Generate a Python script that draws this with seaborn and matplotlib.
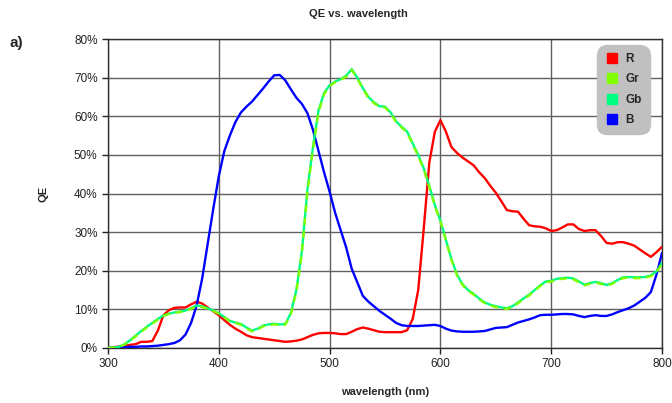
import numpy as np
import pandas as pd
import seaborn as sns
import matplotlib.pyplot as plt
from matplotlib.lines import Line2D
from matplotlib.ticker import PercentFormatter

sns.set_style('white')
plt.rcParams['font.family'] = ['Liberation Sans', 'DejaVu Sans']

# wavelength grid, 5 nm steps
wavelength = list(range(300, 805, 5))

qe_r = [0.0, 0.2, 0.4, 0.6, 0.8, 1.0, 1.6, 1.6, 1.8, 4.5,
        8.5, 9.8, 10.4, 10.5, 10.5, 11.3, 12.0, 11.5, 10.5, 9.5,
        8.5, 7.2, 6.0, 5.0, 4.2, 3.3, 2.8, 2.6, 2.4, 2.2,
        2.0, 1.8, 1.6, 1.7, 1.9, 2.2, 2.8, 3.4, 3.8, 3.9,
        3.9, 3.8, 3.6, 3.6, 4.2, 4.9, 5.3, 5.0, 4.6, 4.2,
        4.1, 4.1, 4.1, 4.1, 4.6, 7.5, 15.0, 31.0, 48.0, 56.0,
        59.0, 56.0, 52.0, 50.5, 49.3, 48.3, 47.3, 45.5, 44.0, 42.0,
        40.2, 38.0, 35.7, 35.4, 35.3, 33.5, 31.8, 31.5, 31.4, 31.0,
        30.3, 30.5, 31.2, 32.0, 32.0, 30.8, 30.3, 30.5, 30.5, 29.0,
        27.2, 27.0, 27.4, 27.4, 27.0, 26.5, 25.5, 24.5, 23.6, 24.8,
        26.2]

qe_gb = [0.0, 0.1, 0.3, 1.0, 2.0, 3.2, 4.4, 5.5, 6.5, 7.5,
         8.4, 8.9, 9.2, 9.4, 9.7, 10.3, 11.0, 10.8, 10.3, 9.7,
         9.0, 8.0, 7.0, 6.6, 6.2, 5.3, 4.5, 5.0, 5.8, 6.1,
         6.3, 6.1, 6.2, 9.0, 15.0, 25.0, 41.0, 52.0, 61.5, 66.0,
         68.0, 69.0, 69.6, 70.5, 72.2, 70.0, 67.3, 65.0, 63.6, 62.6,
         62.5, 61.0, 58.7, 57.3, 56.0, 53.0, 50.0, 46.5, 42.0, 37.0,
         33.0, 28.0, 23.0, 19.0, 16.5, 15.0, 14.0, 12.8, 11.8, 11.2,
         10.8, 10.5, 10.3, 10.8, 11.8, 12.8, 13.8, 15.0, 16.2, 17.2,
         17.4, 17.9, 18.1, 18.2, 18.0, 17.2, 16.4, 16.8, 17.1, 16.8,
         16.3, 16.8, 17.6, 18.3, 18.4, 18.3, 18.3, 18.4, 18.8, 19.8,
         22.0]

qe_gr = [0.0, 0.1, 0.3, 0.9, 1.9, 3.0, 4.2, 5.3, 6.3, 7.3,
         8.3, 8.8, 9.1, 9.3, 9.6, 10.1, 10.8, 10.6, 10.1, 9.6,
         8.9, 7.9, 6.9, 6.5, 6.0, 5.1, 4.3, 4.8, 5.6, 5.9,
         6.1, 5.9, 6.0, 8.7, 14.6, 24.6, 40.5, 51.6, 61.0, 65.7,
         67.8, 68.8, 69.4, 70.3, 72.0, 69.8, 67.1, 64.8, 63.4, 62.4,
         62.3, 60.8, 58.5, 57.1, 55.7, 52.7, 49.7, 46.2, 41.7, 36.8,
         32.8, 27.8, 22.8, 18.8, 16.3, 14.8, 13.8, 12.6, 11.6, 11.0,
         10.6, 10.3, 10.1, 10.6, 11.6, 12.6, 13.6, 14.8, 16.0, 17.0,
         17.2, 17.7, 17.9, 18.0, 17.8, 17.0, 16.2, 16.6, 16.9, 16.6,
         16.1, 16.6, 17.4, 18.1, 18.2, 18.1, 18.1, 18.2, 18.6, 19.6,
         21.8]

qe_b = [0.0, 0.1, 0.2, 0.2, 0.3, 0.3, 0.4, 0.4, 0.5, 0.6,
        0.8, 1.0, 1.3, 2.0, 3.5, 6.5, 11.0, 18.0, 27.0, 36.0,
        44.5, 51.0, 55.0, 58.5, 61.0, 62.5, 63.8, 65.5, 67.2, 69.0,
        70.6, 70.7, 69.3, 67.0, 64.8, 63.2, 60.8, 56.5, 51.0, 45.5,
        40.5, 35.0, 30.5, 26.0, 20.5, 17.0, 13.5, 12.0, 10.8, 9.6,
        8.6, 7.6, 6.5, 5.9, 5.7, 5.7, 5.7, 5.8, 5.9, 6.0,
        5.7, 5.0, 4.5, 4.3, 4.2, 4.2, 4.2, 4.3, 4.4, 4.8,
        5.2, 5.3, 5.4, 6.0, 6.6, 7.0, 7.4, 7.9, 8.5, 8.6,
        8.6, 8.7, 8.8, 8.8, 8.7, 8.3, 8.0, 8.3, 8.5, 8.3,
        8.3, 8.7, 9.3, 9.8, 10.3, 11.0, 12.0, 13.0, 14.5, 19.0,
        24.6]

df = pd.DataFrame({'wavelength': wavelength, 'R': qe_r, 'Gr': qe_gr,
                   'Gb': qe_gb, 'B': qe_b})

colors = {'R': '#ff0000', 'Gr': '#80ff00', 'Gb': '#00ff80', 'B': '#0000ff'}

fig = plt.figure(figsize=(6.72, 4.03), dpi=100)
ax = fig.add_axes([0.1607, 0.1365, 0.8244, 0.7667])

sns.lineplot(data=df, x='wavelength', y='R', ax=ax, color=colors['R'], lw=1.7, zorder=3)
sns.lineplot(data=df, x='wavelength', y='Gb', ax=ax, color=colors['Gb'], lw=1.7, zorder=4)
sns.lineplot(data=df, x='wavelength', y='Gr', ax=ax, color=colors['Gr'], lw=1.7, zorder=5)
ax.lines[-1].set_linestyle((0, (3, 2.5)))
sns.lineplot(data=df, x='wavelength', y='B', ax=ax, color=colors['B'], lw=1.7, zorder=3)

ax.set_xlim(300, 800)
ax.set_ylim(0, 80)
ax.set_xticks(range(300, 801, 100))
ax.set_yticks(range(0, 81, 10))
ax.yaxis.set_major_formatter(PercentFormatter(decimals=0))
ax.grid(True, color='#606060', lw=1)
ax.set_axisbelow(True)
for s in ax.spines.values():
    s.set_color('#303030')
    s.set_linewidth(1)
ax.tick_params(axis='both', labelsize=8.5, colors='#222222', length=4, width=1,
               direction='out', left=True, bottom=True)

ax.set_xlabel('wavelength (nm)', fontsize=8, fontweight='bold', labelpad=12)
ax.set_ylabel('QE', fontsize=8, fontweight='bold', labelpad=18)

fig.text(0.533, 0.965, 'QE vs. wavelength', ha='center', va='center',
         fontsize=8, fontweight='bold')
fig.text(0.014, 0.893, 'a)', ha='left', va='center', fontsize=11, fontweight='bold')

handles = [Line2D([], [], ls='none', marker='s', markersize=7, color=colors[k])
           for k in ['R', 'Gr', 'Gb', 'B']]
leg = ax.legend(handles, ['R', 'Gr', 'Gb', 'B'], loc='upper right',
                bbox_to_anchor=(0.978, 0.981), borderaxespad=0, frameon=True,
                facecolor='#c0c0c0', edgecolor='#c0c0c0', framealpha=1,
                prop={'size': 8.5, 'weight': 'bold'}, labelspacing=0.7,
                handletextpad=0.5, handlelength=1.2, borderpad=0.7)
leg.get_frame().set_boxstyle('round,pad=0,rounding_size=0.9')
leg.set_zorder(10)

fig.savefig('out.png', dpi=100)
